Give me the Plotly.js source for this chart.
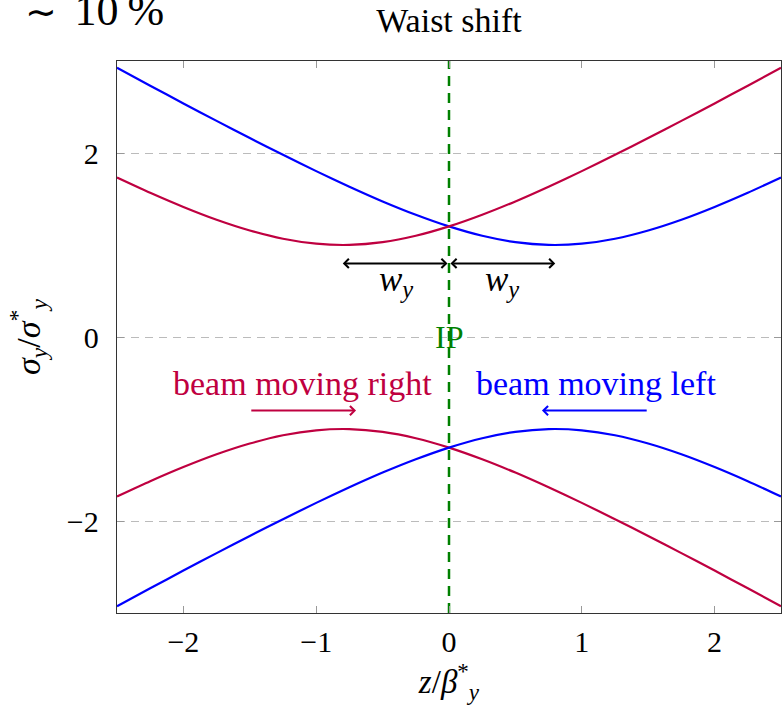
<!DOCTYPE html>
<html>
<head>
<meta charset="utf-8">
<script src="https://cdn.plot.ly/plotly-3.0.1.min.js"></script>
<style>html,body{margin:0;padding:0;background:#fff;}</style>
</head>
<body>
<div id="chart" style="width:782px;height:705px;"></div>
<script>
// z / beta_y* positions
const z = [-2.5, -2.25, -2.0, -1.75, -1.5, -1.25, -1.0, -0.75, -0.5, -0.25, 0.0,
           0.25, 0.5, 0.75, 1.0, 1.25, 1.5, 1.75, 2.0, 2.25, 2.5];
// beam moving right (waist at z = -w_y), upper and lower envelope
const rightUpper = [1.734, 1.568, 1.414, 1.275, 1.158, 1.068, 1.014, 1.001, 1.031, 1.100, 1.202,
                    1.329, 1.474, 1.634, 1.803, 1.980, 2.162, 2.349, 2.539, 2.731, 2.926];
const rightLower = [-1.734, -1.568, -1.414, -1.275, -1.158, -1.068, -1.014, -1.001, -1.031, -1.100, -1.202,
                    -1.329, -1.474, -1.634, -1.803, -1.980, -2.162, -2.349, -2.539, -2.731, -2.926];
// beam moving left (waist at z = +w_y)
const leftUpper = [2.926, 2.731, 2.539, 2.349, 2.162, 1.980, 1.803, 1.634, 1.474, 1.329, 1.202,
                   1.100, 1.031, 1.001, 1.014, 1.068, 1.158, 1.275, 1.414, 1.568, 1.734];
const leftLower = [-2.926, -2.731, -2.539, -2.349, -2.162, -1.980, -1.803, -1.634, -1.474, -1.329, -1.202,
                   -1.100, -1.031, -1.001, -1.014, -1.068, -1.158, -1.275, -1.414, -1.568, -1.734];
// IP marker
const ipX = [0, 0];
const ipY = [-3, 3];
// waist offsets and annotation anchors
const waist = 0.8;
const waistArrowY = 0.8;
const labelRowY = -0.5;
const moveArrowY = -0.8;
const xTicks = [-2, -1, 0, 1, 2];
const yTicks = [-2, 0, 2];

const RED = '#BF0040', BLUE = '#0000FF', GREEN = '#008000';
const FONT = 'Liberation Serif, Times New Roman, serif';

const traces = [
  {x: z, y: leftUpper, mode: 'lines', line: {color: BLUE, width: 2.2, shape: 'spline', smoothing: 0.6}, name: 'beam moving left'},
  {x: z, y: rightUpper, mode: 'lines', line: {color: RED, width: 2.2, shape: 'spline', smoothing: 0.6}, name: 'beam moving right'},
  {x: z, y: rightLower, mode: 'lines', line: {color: RED, width: 2.2, shape: 'spline', smoothing: 0.6}, name: 'beam moving right'},
  {x: z, y: leftLower, mode: 'lines', line: {color: BLUE, width: 2.2, shape: 'spline', smoothing: 0.6}, name: 'beam moving left'},
  {x: ipX, y: ipY, mode: 'lines', line: {color: GREEN, width: 2.5, dash: '10px,7px'}, name: 'IP'}
];

const annotations = [
  // waist arrows
  {x: -waist, y: waistArrowY, ax: 0, ay: waistArrowY, xref: 'x', yref: 'y', axref: 'x', ayref: 'y',
   text: '', showarrow: true, arrowside: 'end+start', arrowhead: 4, startarrowhead: 4,
   arrowsize: 0.9, startarrowsize: 0.9, arrowwidth: 2, arrowcolor: '#000', standoff: 0, startstandoff: 0},
  {x: waist, y: waistArrowY, ax: 0, ay: waistArrowY, xref: 'x', yref: 'y', axref: 'x', ayref: 'y',
   text: '', showarrow: true, arrowside: 'end+start', arrowhead: 4, startarrowhead: 4,
   arrowsize: 0.9, startarrowsize: 0.9, arrowwidth: 2, arrowcolor: '#000', standoff: 0, startstandoff: 0},
  {x: -waist / 2, y: 0.6, xref: 'x', yref: 'y', text: '<i>w<sub>y</sub></i>', showarrow: false,
   font: {family: FONT, size: 35, color: '#000'}},
  {x: waist / 2, y: 0.6, xref: 'x', yref: 'y', text: '<i>w<sub>y</sub></i>', showarrow: false,
   font: {family: FONT, size: 35, color: '#000'}},
  // IP label
  {x: 0, y: 0, xref: 'x', yref: 'y', text: 'IP', showarrow: false,
   font: {family: FONT, size: 32, color: GREEN}},
  // beam direction labels
  {x: -1.1, y: labelRowY, xref: 'x', yref: 'y', text: 'beam moving right', showarrow: false,
   font: {family: FONT, size: 34, color: RED}},
  {x: 1.107, y: labelRowY, xref: 'x', yref: 'y', text: 'beam moving left', showarrow: false,
   font: {family: FONT, size: 34, color: BLUE}},
  {x: -0.7, y: moveArrowY, ax: -1.5, ay: moveArrowY, xref: 'x', yref: 'y', axref: 'x', ayref: 'y',
   text: '', showarrow: true, arrowhead: 4, arrowsize: 0.9, arrowwidth: 2, arrowcolor: RED, standoff: 0},
  {x: 0.7, y: moveArrowY, ax: 1.5, ay: moveArrowY, xref: 'x', yref: 'y', axref: 'x', ayref: 'y',
   text: '', showarrow: true, arrowhead: 4, arrowsize: 0.9, arrowwidth: 2, arrowcolor: BLUE, standoff: 0},
  // big corner label
  {x: 0.074, y: 1.0435, xref: 'paper', yref: 'paper', xanchor: 'right', yanchor: 'bottom',
   text: '<span style="font-size:38px">∼</span>\u2009\u200910\u2009%', showarrow: false,
   font: {family: FONT, size: 44, color: '#000'}}
];

const layout = {
  width: 782, height: 705,
  margin: {l: 117, r: 1, t: 61, b: 92},
  paper_bgcolor: '#fff', plot_bgcolor: '#fff',
  showlegend: false,
  font: {family: FONT, color: '#000'},
  title: {text: 'Waist shift', x: 0.5, xref: 'paper', y: 0.972, yref: 'container', yanchor: 'middle',
          font: {family: FONT, size: 34, color: '#000'}},
  xaxis: {
    range: [-2.5, 2.5], tickvals: xTicks, ticktext: xTicks.map(v => v < 0 ? '−' + Math.abs(v) : String(v)),
    ticks: 'inside', ticklen: 7, tickcolor: '#999', tickwidth: 1,
    showline: true, linecolor: '#333', linewidth: 1.3, mirror: 'ticks',
    showgrid: false, zeroline: false,
    tickfont: {family: FONT, size: 30, color: '#000'}, ticklabelstandoff: 2,
    title: {text: '<i>z</i>/<i>β</i><sup>*</sup><sub><i>y</i></sub>', standoff: 12,
            font: {family: FONT, size: 33, color: '#000'}}
  },
  yaxis: {
    range: [-3, 3], tickvals: yTicks, ticktext: yTicks.map(v => v < 0 ? '−' + Math.abs(v) : String(v)),
    ticks: 'inside', ticklen: 7, tickcolor: '#999', tickwidth: 1,
    showline: true, linecolor: '#333', linewidth: 1.3, mirror: 'ticks',
    showgrid: true, gridcolor: '#bbbbbb', gridwidth: 1, griddash: '8px,6px', zeroline: false,
    tickfont: {family: FONT, size: 30, color: '#000'}, ticklabelstandoff: 11,
    title: {text: '<i>σ<sub>y</sub></i>/<i>σ</i><sup>*</sup><sub><i>y</i></sub>', standoff: 16,
            font: {family: FONT, size: 34, color: '#000'}}
  },
  annotations: annotations
};

Plotly.newPlot('chart', traces, layout, {displayModeBar: false, staticPlot: true});
</script>
</body>
</html>
